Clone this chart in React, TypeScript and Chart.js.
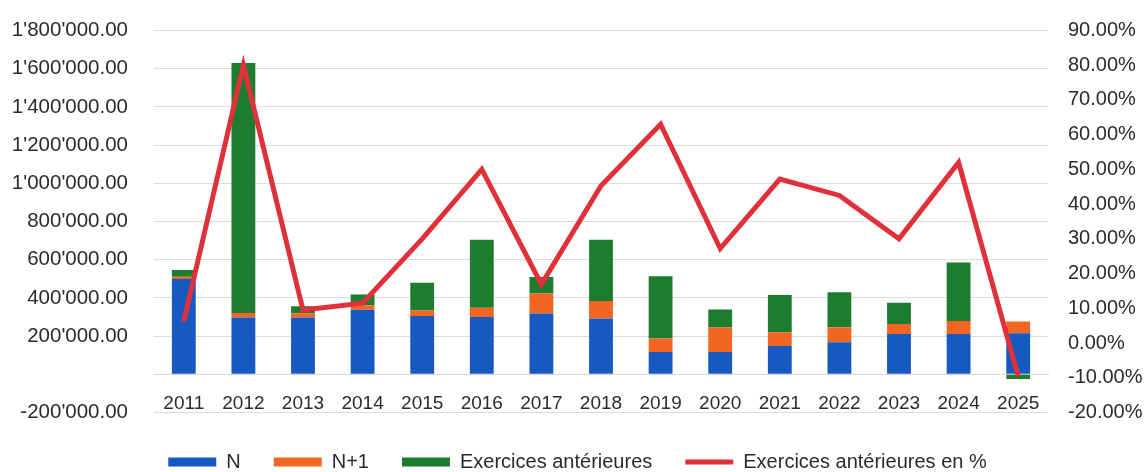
import React, { useEffect, useRef } from "react";
import { Chart, registerables } from "chart.js";

Chart.register(...registerables);

const years = ["2011", "2012", "2013", "2014", "2015", "2016", "2017", "2018", "2019", "2020", "2021", "2022", "2023", "2024", "2025"];
const seriesN = [499000, 298000, 298000, 338000, 305000, 300000, 318000, 292000, 117000, 117000, 148000, 168000, 211000, 211000, 215000];
const seriesN1 = [12000, 23000, 21000, 23000, 29000, 49000, 105000, 92000, 70000, 128000, 72000, 78000, 52000, 68000, 61000];
const seriesAnt = [35000, 1309000, 37000, 57000, 145000, 356000, 86000, 321000, 326000, 94000, 195000, 183000, 112000, 306000, -25000];
const seriesPct = [6.2, 80.0, 9.5, 11.5, 30.0, 50.0, 16.9, 45.3, 63.0, 27.2, 47.2, 42.5, 30.0, 52.0, -9.6];

const labelN = "N";
const labelN1 = "N+1";
const labelAnt = "Exercices antérieures";
const labelPct = "Exercices antérieures en %";

const BLUE = "#1659c0";
const ORANGE = "#f26522";
const GREEN = "#1d7d2f";
const RED = "#e0313b";
const TEXT = "#2b2b2b";
const FONT = "'Liberation Sans', Arial, sans-serif";

function fmtAmount(v: number): string {
  if (v === 0) return "";
  const neg = v < 0;
  const s = Math.abs(Math.round(v)).toString().replace(/\B(?=(\d{3})+(?!\d))/g, "'");
  return (neg ? "-" : "") + s + ".00";
}

const legendShift = {
  id: "legendShift",
  afterLayout(chart: any) {
    const lg = chart.legend;
    if (!lg) return;
    lg.top += 6.5;
    lg.bottom += 6.5;
    lg.left += 5;
    lg.right += 5;
  },
};

export default function App() {
  const ref = useRef<HTMLCanvasElement | null>(null);
  useEffect(() => {
    if (!ref.current) return;
    const chart = new Chart(ref.current, {
      type: "bar",
      data: {
        labels: years,
        datasets: [
          { type: "bar", label: labelN, data: seriesN, backgroundColor: BLUE, borderWidth: 0, order: 1, yAxisID: "y", stack: "s" },
          { type: "bar", label: labelN1, data: seriesN1, backgroundColor: ORANGE, borderWidth: 0, order: 1, yAxisID: "y", stack: "s" },
          { type: "bar", label: labelAnt, data: seriesAnt, backgroundColor: GREEN, borderWidth: 0, order: 1, yAxisID: "y", stack: "s" },
          { type: "line", label: labelPct, data: seriesPct, borderColor: RED, backgroundColor: RED, borderWidth: 5, pointRadius: 0, tension: 0, order: 0, yAxisID: "y1", borderJoinStyle: "miter" } as any,
        ],
      },
      plugins: [legendShift],
      options: {
        responsive: false,
        animation: false,
        datasets: { bar: { categoryPercentage: 1, barPercentage: 0.4 } },
        layout: { padding: { top: 30.5, left: 0, right: 0, bottom: 0 } },
        plugins: {
          tooltip: { enabled: false },
          legend: {
            position: "bottom",
            maxHeight: 59.5,
            labels: {
              usePointStyle: true,
              pointStyleWidth: 48,
              boxHeight: 9,
              padding: 33,
              color: TEXT,
              font: { family: FONT, size: 20 },
              sort: (a: any, b: any) => a.datasetIndex - b.datasetIndex,
              generateLabels: (c: any) => {
                const items = (Chart.defaults.plugins.legend.labels as any).generateLabels(c);
                return items.map((it: any) => it.datasetIndex === 3
                  ? { ...it, pointStyle: "line", lineWidth: 5, strokeStyle: RED, fillStyle: RED }
                  : { ...it, pointStyle: "rect", lineWidth: 0 });
              },
            },
          } as any,
        },
        scales: {
          x: {
            stacked: true,
            position: { y: 0 } as any,
            grid: { display: false, drawTicks: false },
            border: { display: true, color: "#d6d6d6" },
            ticks: { padding: 18, color: TEXT, font: { family: FONT, size: 19 }, maxRotation: 0, autoSkip: false },
          },
          y: {
            stacked: true,
            position: "left",
            min: -200000,
            max: 1800000,
            afterFit: (s: any) => { s.width = 154; },
            grid: { color: "#dcdcdc", lineWidth: 1, drawTicks: true, tickLength: 26, tickColor: "rgba(0,0,0,0)" },
            border: { display: false },
            ticks: { stepSize: 200000, padding: 0, color: TEXT, font: { family: FONT, size: 20.5 }, callback: (v: any) => fmtAmount(Number(v)) },
          },
          y1: {
            position: "right",
            min: -20,
            max: 90,
            afterFit: (s: any) => { s.width = 97; },
            grid: { display: false, drawTicks: true, tickLength: 20, tickColor: "rgba(0,0,0,0)" },
            border: { display: false },
            ticks: { stepSize: 10, padding: 0, color: TEXT, font: { family: FONT, size: 20 }, callback: (v: any) => Number(v).toFixed(2) + "%" },
          },
        },
      } as any,
    });
    return () => chart.destroy();
  }, []);
  return (
    <div style={{ position: "fixed", left: 0, top: 0, width: 1145, height: 472, background: "#fff" }}>
      <canvas ref={ref} width={1145} height={472} style={{ display: "block" }} />
    </div>
  );
}
